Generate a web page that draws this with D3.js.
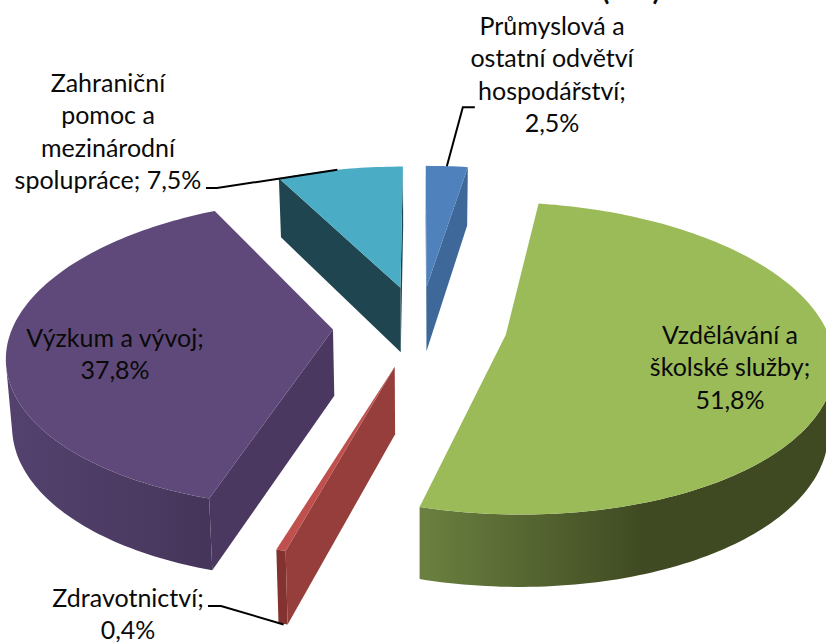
<!DOCTYPE html>
<html>
<head>
<meta charset="utf-8">
<script src="https://cdn.jsdelivr.net/npm/d3@7"></script>
<style>
  html, body { margin: 0; padding: 0; background: #fff; }
  svg { display: block; }
  text { font-family: Lato, "Open Sans", sans-serif; font-size: 25px; fill: #0a0a0a; text-anchor: middle; }
</style>
</head>
<body>
<svg id="chart" width="826" height="642"></svg>
<script>
// data, clockwise from 12 o'clock
var categories = ["Průmyslová a ostatní odvětví hospodářství", "Vzdělávání a školské služby", "Zdravotnictví", "Výzkum a vývoj", "Zahraniční pomoc a mezinárodní spolupráce"]
var values = [2.5, 51.8, 0.4, 37.8, 7.5]

// wrapped label lines, same order as categories
var labelLines = [
  ["Průmyslová a", "ostatní odvětví", "hospodářství;"],
  ["Vzdělávání a", "školské služby;"],
  ["Zdravotnictví;"],
  ["Výzkum a vývoj;"],
  ["Zahraniční", "pomoc a", "mezinárodní", "spolupráce;"]
]
var valueInline = [false, false, false, false, true]
var labelX = [552, 730, 128, 115, 108]
var labelY = [35, 344, 607, 347, 92]
var lineGap = 32.4

// colours
var topColors = ["#4f81bd", "#9bbb59", "#c0504d", "#5f497a", "#4bacc6"]
var radialColors = ["#3d6899", "#5f7237", "#963e3b", "#4a3860", "#1f4650"]
var wallFrom = ["#3d6899", "#6b8040", "#83322f", "#53426e", "#1f4650"]
var wallTo = ["#3d6899", "#3f4a22", "#83322f", "#46355a", "#1f4650"]
var wallStop = [1, 0.54, 1, 1, 1]

// leader lines: where on the slice's rim they start
var leaderAngle = [0.5, null, 0, null, 0.48]

var cx = 420, cy = 326
var rx = 320, ry = 150
var explode = 0.272
var persp = 0.15
var depth = 66, depthPersp = 6, shrink = 0.985

var svg = d3.select("#chart")
var defs = svg.append("defs")
var line = d3.line().curve(d3.curveLinearClosed)

// pie plane (x right, y to the back, radius 1) to screen, z 0 top, 1 bottom
function project(x, y, z) {
  var w = 1 / (1 + persp * y)
  var sx = rx * x * w
  var sy = -ry * y * w
  if (z) {
    sx = sx * shrink
    sy = sy + depth - depthPersp * y
  }
  return [cx + sx, cy + sy]
}

var pie = d3.pie().sort(null)
var arcs = pie(values).map(function(d, i) {
  var mid = (d.startAngle + d.endAngle) / 2
  return {
    i: i,
    a0: d.startAngle,
    a1: d.endAngle,
    ox: explode * Math.sin(mid),
    oy: explode * Math.cos(mid)
  }
})

function rimPoint(s, a, z) {
  return project(s.ox + Math.sin(a), s.oy + Math.cos(a), z)
}

function rimRange(s, z) {
  var n = Math.max(2, Math.ceil((s.a1 - s.a0) / 0.02))
  return d3.range(n + 1).map(function(k) {
    return rimPoint(s, s.a0 + (s.a1 - s.a0) * k / n, z)
  })
}

// d3.polygonArea is negative when clockwise on screen, that is when the face looks at us
function facing(q) {
  return d3.polygonArea(q) < 0
}

function drawSlice(s) {
  var i = s.i
  var g = svg.append("g")
  var apexTop = project(s.ox, s.oy, 0)
  var apexBot = project(s.ox, s.oy, 1)
  var topRim = rimRange(s, 0)
  var botRim = rimRange(s, 1)

  // outer wall, one path of the strips that face us
  var grad = defs.append("linearGradient").attr("id", "wall" + i)
  grad.append("stop").attr("offset", 0).attr("stop-color", wallFrom[i])
  grad.append("stop").attr("offset", wallStop[i]).attr("stop-color", wallTo[i])
  var strips = d3.range(topRim.length - 1)
    .map(function(k) { return [topRim[k + 1], topRim[k], botRim[k], botRim[k + 1]] })
    .filter(facing)
  if (strips.length) {
    g.append("path")
      .attr("d", strips.map(line).join(""))
      .attr("fill", "url(#wall" + i + ")")
  }

  // radial walls
  var start = [topRim[0], apexTop, apexBot, botRim[0]]
  var end = [apexTop, topRim[topRim.length - 1], botRim[botRim.length - 1], apexBot]
  ;[start, end].filter(facing).forEach(function(q) {
    g.append("path").attr("d", line(q)).attr("fill", radialColors[i])
  })

  // top
  g.append("path")
    .attr("d", line([apexTop].concat(topRim)))
    .attr("fill", topColors[i])
}

// back to front
arcs.slice()
  .sort(function(a, b) { return b.oy - a.oy })
  .forEach(drawSlice)

// leader lines
var leader = d3.line()
function drawLeader(pts) {
  svg.append("path")
    .attr("d", leader(pts))
    .attr("fill", "none")
    .attr("stroke", "#000")
    .attr("stroke-width", 2)
}
var blue = arcs[0], red = arcs[2], teal = arcs[4]
var bp = rimPoint(blue, blue.a0 + (blue.a1 - blue.a0) * leaderAngle[0], 0)
drawLeader([bp, [bp[0] + 16, bp[1] - 59], [bp[0] + 28, bp[1] - 59]])
var tp = rimPoint(teal, teal.a0 + (teal.a1 - teal.a0) * leaderAngle[4], 0)
drawLeader([tp, [217, 188], [206, 188]])
var rp = rimPoint(red, red.a0 + (red.a1 - red.a0) * leaderAngle[2], 1)
drawLeader([[rp[0] - 4, rp[1]], [221, 606], [208, 606]])

// labels
labelLines.forEach(function(lines, i) {
  var pct = String(values[i]).replace(".", ",") + "%"
  var rows = lines.slice()
  if (valueInline[i]) rows[rows.length - 1] += " " + pct
  else rows.push(pct)
  rows.forEach(function(t, k) {
    svg.append("text")
      .attr("x", labelX[i])
      .attr("y", labelY[i] + k * lineGap)
      .text(t)
  })
})

// chart title, cut off by the top of the picture
svg.append("text")
  .attr("x", 631)
  .attr("y", 0)
  .style("font-weight", "bold")
  .style("font-size", "28px")
  .text("(v %)")
</script>
</body>
</html>
